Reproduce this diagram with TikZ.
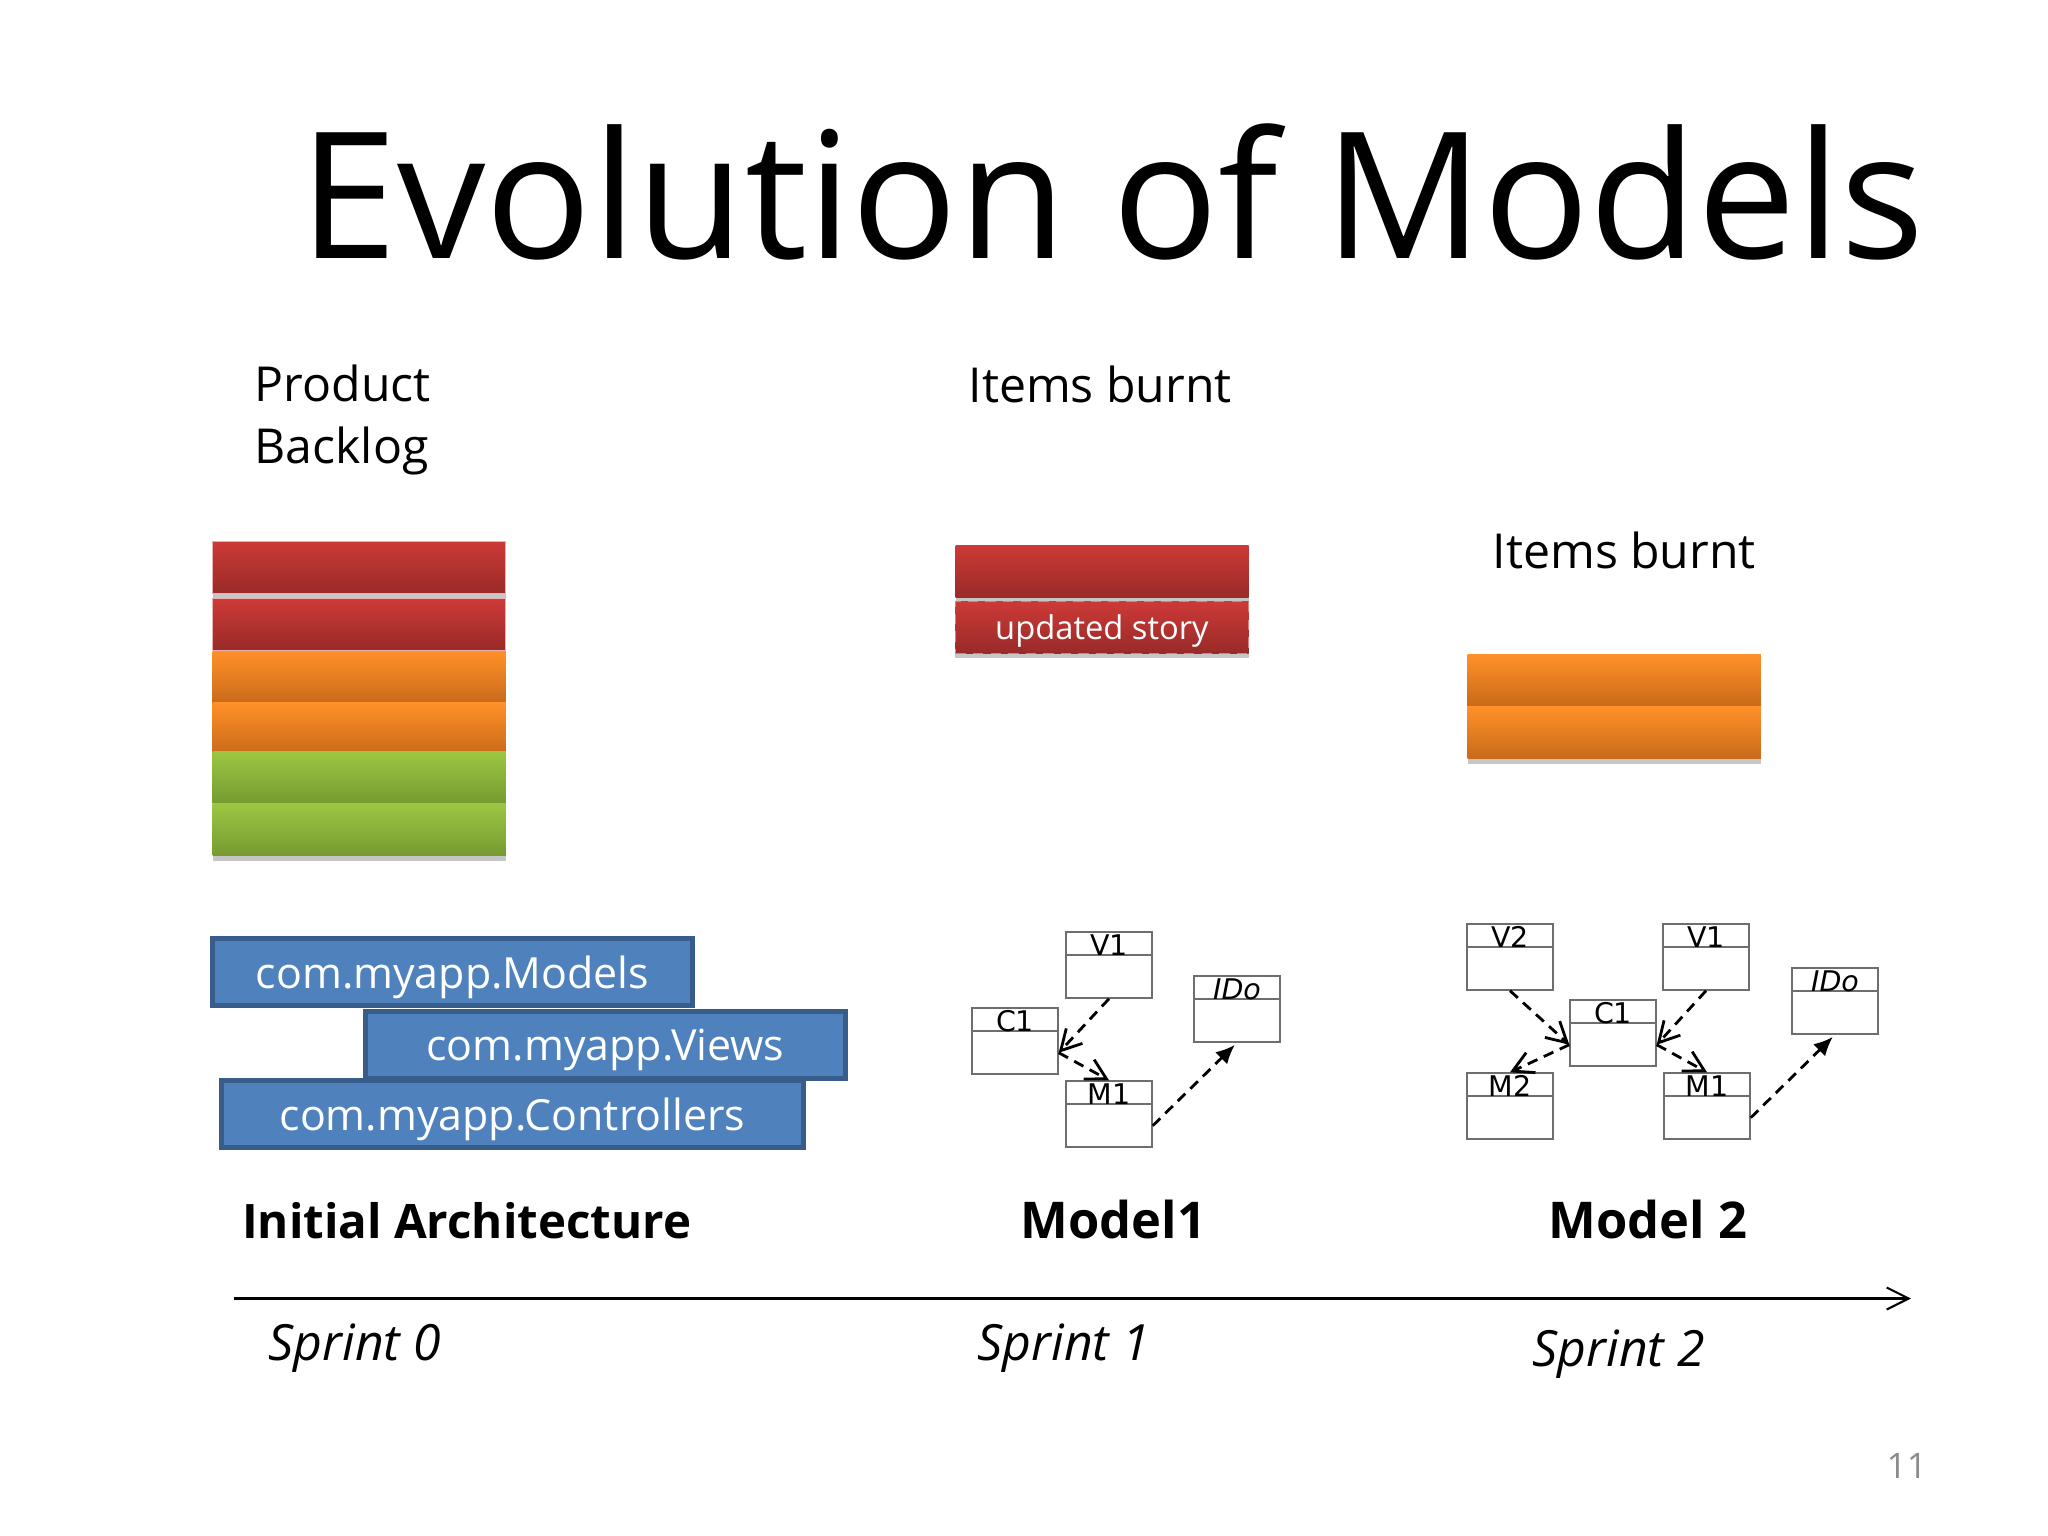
\documentclass[tikz,border=0pt]{standalone}
\usepackage{fontspec}
\setmainfont{Open Sans}
\newfontfamily\umlfont{DejaVu Sans}
\usetikzlibrary{arrows.meta,shadows}

\newcommand{\fsz}[2]{\fontsize{#1}{#2}\selectfont}

\tikzset{
    bar/.style={rectangle, minimum width=2.93cm, minimum height=0.52cm, inner sep=0pt, anchor=north west,
        drop shadow={shadow xshift=0pt, shadow yshift=-0.05cm, opacity=0.45}},
    redbar/.style={bar, top color=red1, bottom color=red2, draw=red1!40!white, line width=0.3pt},
    orangebar/.style={bar, top color=orange1, bottom color=orange2},
    greenbar/.style={bar, top color=green1, bottom color=green2},
    pkg/.style={rectangle, draw=pkgline, fill=pkgfill, line width=1.4pt, inner sep=0pt, text=white,
        minimum height=0.67cm, text depth=0pt, font=\fsz{12.2}{15}},
    umlbox/.style={rectangle, draw=umlline, line width=0.4pt, fill=white, minimum width=0.86cm, minimum height=0.66cm, inner sep=0pt},
    umlhead/.style={rectangle, draw=umlline, line width=0.4pt, minimum width=0.86cm, minimum height=0.23cm, inner sep=0pt, anchor=north,
        text height=0.23cm, text depth=0cm, font=\umlfont\fsz{8.1}{8}},
    dep/.style={densely dashed, line width=0.8pt, -{Straight Barb[length=0.2cm, width=0.22cm]}},
    real/.style={densely dashed, line width=0.8pt, -{Latex[length=0.19cm, width=0.17cm]}, shorten >=0.03cm},
    txt/.style={inner sep=0pt, anchor=base west, font=\fsz{13.7}{17.6}},
    head/.style={inner sep=0pt, anchor=base west, font=\bfseries\fsz{14.4}{17}},
    sprint/.style={inner sep=0pt, anchor=base west, font=\itshape\fsz{14.2}{17}}
}
\definecolor{red1}{HTML}{CC3A37}
\definecolor{red2}{HTML}{992A28}
\definecolor{orange1}{HTML}{FF9028}
\definecolor{orange2}{HTML}{C86A1A}
\definecolor{green1}{HTML}{9CC643}
\definecolor{green2}{HTML}{769A30}
\definecolor{pkgfill}{HTML}{4F81BD}
\definecolor{pkgline}{HTML}{385D8A}
\definecolor{umlline}{HTML}{6E6E6E}

\begin{document}
\begin{tikzpicture}[x=0.01cm, y=-0.01cm]
    \useasboundingbox (0,0) rectangle (2048,1536);

    % Title
    \node[inner sep=0pt, anchor=base west, font=\fsz{50.1}{60}] (title) at (299,258) {Evolution of Models};

    % Captions
    \node[txt, anchor=north west, align=left] (backlog) at (254,364) {Product\\Backlog};
    \node[txt] (burnt1) at (968,402) {Items burnt};
    \node[txt] (burnt2) at (1492,568) {Items burnt};

    % Backlog stack
    \node[redbar] (bar1) at (212,541) {};
    \node[redbar] (bar2) at (212,598) {};
    \node[orangebar] (bar3) at (212,651) {};
    \node[orangebar] (bar4) at (212,702) {};
    \node[greenbar] (bar5) at (212,751) {};
    \node[greenbar] (bar6) at (212,803) {};

    % Burnt in sprint 1
    \node[redbar, draw=none] (done1) at (955,545) {};
    \node[redbar, draw=white!35!red1, densely dashed, line width=0.2pt, text=white, text depth=0pt, font=\fsz{9.3}{12}] (done2) at (955,601) {updated story};

    % Burnt in sprint 2
    \node[orangebar] (done3) at (1467,654) {};
    \node[orangebar] (done4) at (1467,706) {};

    % Packages
    \node[pkg, minimum width=4.8cm] (models) at (452.5,972) {com.myapp.Models};
    \node[pkg, minimum width=4.8cm] (views) at (605.5,1045) {com.myapp.Views};
    \node[pkg, minimum width=5.82cm] (ctrls) at (512.5,1114) {com.myapp.Controllers};

    % Model 1
    \foreach \name/\x/\y/\label in {aV/1109/965/V1, aC/1015/1041/C1, aM/1109/1114/M1, aI/1237/1009/\textit{IDo}} {
        \node[umlbox] (\name) at (\x,\y) {};
        \node[umlhead] (\name h) at (\name.north) {\label};
    }
    \draw[dep] (aV.south) -- (aC.-15.6);
    \draw[dep] (aC.-15.6) -- (aM.north);
    \draw[real] (aM.-15.6) -- (aI.south);

    % Model 2
    \foreach \name/\x/\y/\label in {bW/1510/957/V2, bV/1706/957/V1, bC/1613/1033/C1, bN/1510/1106/M2, bM/1707/1106/M1, bI/1835/1001/\textit{IDo}} {
        \node[umlbox] (\name) at (\x,\y) {};
        \node[umlhead] (\name h) at (\name.north) {\label};
    }
    \draw[dep] (bW.south) -- (bC.195.6);
    \draw[dep] (bV.south) -- (bC.-15.6);
    \draw[dep] (bC.195.6) -- (bN.north);
    \draw[dep] (bC.-15.6) -- (bM.north);
    \draw[real] (bM.-15.6) -- (bI.south);

    % Headings
    \node[head, font=\bfseries\fsz{13.5}{17}] (arch) at (241.5,1238) {Initial Architecture};
    \node[head] (model1) at (1020,1238) {Model1};
    \node[head] (model2) at (1548,1238) {Model 2};

    % Timeline
    \coordinate (tstart) at (234,1298.5);
    \coordinate (tend) at (1911,1298.5);
    \draw[line width=0.6pt, -{Straight Barb[length=0.22cm, width=0.22cm]}] (tstart) -- (tend);

    \node[sprint] (s0) at (268,1360) {Sprint 0};
    \node[sprint] (s1) at (977,1360) {Sprint 1};
    \node[sprint] (s2) at (1532,1366) {Sprint 2};

    % Page number
    \node[inner sep=0pt, anchor=base west, text=black!45, font=\fsz{10}{12}] (page) at (1886,1478) {11};
\end{tikzpicture}
\end{document}
